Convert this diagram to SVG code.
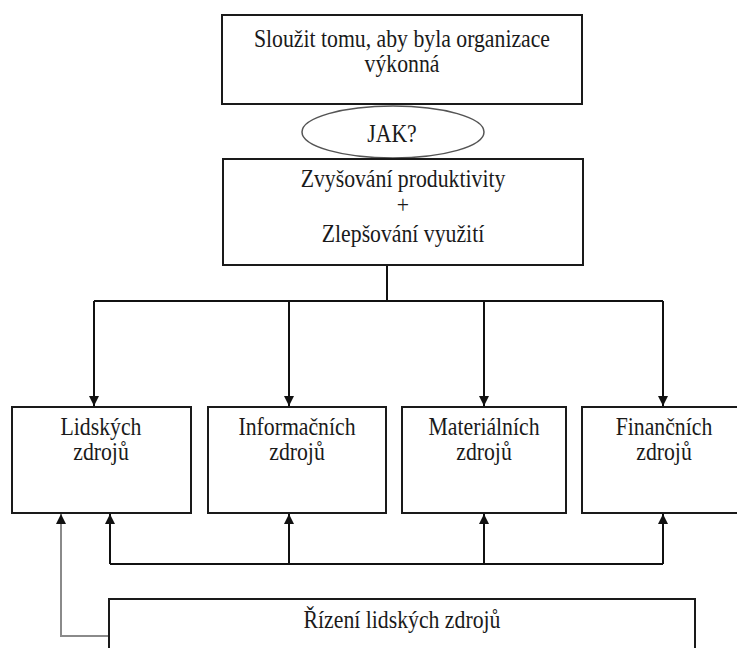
<svg xmlns="http://www.w3.org/2000/svg" width="737" height="648" viewBox="0 0 737 648">
<defs>
<style>
.box{fill:#fff;stroke:#1a1a1a;stroke-width:2}
.t{font-family:'Liberation Serif','Times New Roman',serif;font-size:25px;fill:#1a1a1a;text-anchor:middle}
.c{fill:none;stroke:#111;stroke-width:2}
.g{fill:none;stroke:#8a8a8a;stroke-width:2}
</style>
<marker id="ah" viewBox="0 0 10 10" refX="10" refY="5" markerWidth="10" markerHeight="10" markerUnits="userSpaceOnUse" orient="auto">
<path d="M0,0 L10,5 L0,10 Z" fill="#111"/>
</marker>
</defs>
<rect width="737" height="648" fill="#fff"/>
<g id="connectors">
<path class="c" d="M387,265 V301"/>
<path class="c" d="M94,301 H663"/>
<path class="c" d="M94,301 V406" marker-end="url(#ah)"/>
<path class="c" d="M289,301 V406" marker-end="url(#ah)"/>
<path class="c" d="M484,301 V406" marker-end="url(#ah)"/>
<path class="c" d="M663,301 V406" marker-end="url(#ah)"/>
<path class="c" d="M110,564 H663"/>
<path class="c" d="M110,564 V514" marker-end="url(#ah)"/>
<path class="c" d="M289,564 V514" marker-end="url(#ah)"/>
<path class="c" d="M484,564 V514" marker-end="url(#ah)"/>
<path class="c" d="M663,564 V514" marker-end="url(#ah)"/>
<path class="g" d="M109,636 H61 V514" marker-end="url(#ah)"/>
</g>
<g id="goal">
<rect class="box" x="222" y="15" width="360" height="89"/>
<text class="t" transform="matrix(0.87 0 0 1 402 47)">Sloužit tomu, aby byla organizace</text>
<text class="t" transform="matrix(0.87 0 0 1 402 72)">výkonná</text>
</g>
<g id="how">
<ellipse cx="393" cy="132" rx="91" ry="26" fill="#fff" stroke="#555" stroke-width="1.5"/>
<text class="t" transform="matrix(0.87 0 0 1 392 142)">JAK?</text>
</g>
<g id="means">
<rect class="box" x="223" y="159" width="360" height="106"/>
<text class="t" transform="matrix(0.87 0 0 1 403 187)">Zvyšování produktivity</text>
<text class="t" transform="matrix(0.87 0 0 1 403 213)">+</text>
<text class="t" transform="matrix(0.87 0 0 1 403 242)">Zlepšování využití</text>
</g>
<g id="lidske">
<rect class="box" x="12" y="407" width="179" height="106"/>
<text class="t" transform="matrix(0.87 0 0 1 101 435)">Lidských</text>
<text class="t" transform="matrix(0.87 0 0 1 101 460)">zdrojů</text>
</g>
<g id="informacni">
<rect class="box" x="208" y="407" width="178" height="106"/>
<text class="t" transform="matrix(0.87 0 0 1 297 435)">Informačních</text>
<text class="t" transform="matrix(0.87 0 0 1 297 460)">zdrojů</text>
</g>
<g id="materialni">
<rect class="box" x="402" y="407" width="164" height="106"/>
<text class="t" transform="matrix(0.87 0 0 1 484 435)">Materiálních</text>
<text class="t" transform="matrix(0.87 0 0 1 484 460)">zdrojů</text>
</g>
<g id="financni">
<rect class="box" x="582" y="407" width="166" height="106"/>
<text class="t" transform="matrix(0.87 0 0 1 664 435)">Finančních</text>
<text class="t" transform="matrix(0.87 0 0 1 664 460)">zdrojů</text>
</g>
<g id="rizeni">
<rect class="box" x="109" y="599" width="586" height="60"/>
<text class="t" transform="matrix(0.87 0 0 1 402 628)">Řízení lidských zdrojů</text>
</g>
</svg>
